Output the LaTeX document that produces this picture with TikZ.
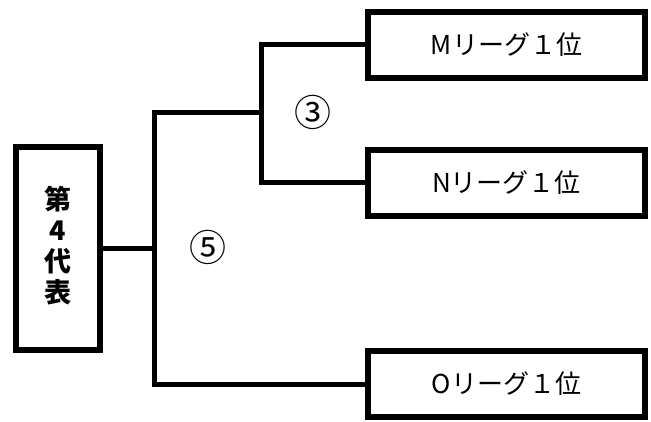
\documentclass[tikz,border=0pt]{standalone}
\usepackage{fontspec}
\setmainfont{Noto Sans CJK JP}
\usepackage{tikz}
\usetikzlibrary{positioning}

\tikzset{
  team/.style={draw, line width=6pt, inner sep=0pt, minimum width=277pt, minimum height=66pt,
    font=\fontsize{26}{30}\selectfont},
  bracket/.style={line width=5pt},
  roundno/.style={font=\fontsize{37}{40}\selectfont}
}

\begin{document}
\begin{tikzpicture}[x=1pt, y=-1pt]
  \useasboundingbox (0,0) rectangle (651,421);

  % Boxes
  \node[draw, line width=6pt, inner sep=0pt, minimum width=84pt, minimum height=203pt] (rep) at (58,248.5) {};
  \node[align=center, font=\fontsize{27}{31}\selectfont\bfseries] (replabel) at (58,246) {第\\4\\代\\表};
  \node[team] (m) at (506.5,44.5) {Mリーグ１位};
  \node[team] (n) at (506.5,182.5) {Nリーグ１位};
  \node[team] (o) at (506.5,384) {Oリーグ１位};

  % Bracket
  \coordinate (j3) at (261,112.5);
  \coordinate (j5) at (154.5,248.5);
  \draw[bracket] (m.west) -| (j3) |- (n.west);
  \draw[bracket] (j3) -| (j5) |- (o.west);
  \draw[bracket] (rep.east) -- (j5);

  % Round numbers
  \node[roundno] (r3) at (313,112) {③};
  \node[roundno] (r5) at (208,247) {⑤};
\end{tikzpicture}
\end{document}
